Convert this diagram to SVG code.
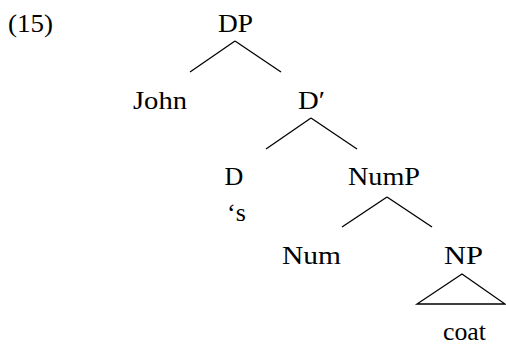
<svg xmlns="http://www.w3.org/2000/svg" width="506" height="345" viewBox="0 0 506 345">
<style>
text{font-family:"Liberation Serif","Times New Roman",serif;font-size:26px;fill:#000}
.c{text-anchor:middle}
line,polygon{stroke:#000;stroke-width:1.3;fill:none}
</style>
<rect width="506" height="345" fill="#fff"/>
<text x="8" y="32" textLength="45" lengthAdjust="spacingAndGlyphs">(15)</text>
<g id="connectors">
<line x1="235" y1="41" x2="190" y2="72"/>
<line x1="235" y1="41" x2="281" y2="72"/>
<line x1="311" y1="118" x2="266" y2="149"/>
<line x1="311" y1="118" x2="357" y2="149"/>
<line x1="387" y1="197" x2="342" y2="227"/>
<line x1="387" y1="197" x2="432" y2="227"/>
</g>
<g id="DP"><text class="c" x="235.5" y="32" textLength="35" lengthAdjust="spacingAndGlyphs">DP</text></g>
<g id="John"><text class="c" x="160" y="109" textLength="54" lengthAdjust="spacingAndGlyphs">John</text></g>
<g id="Dbar"><text class="c" x="311.5" y="109" textLength="27" lengthAdjust="spacingAndGlyphs">D′</text></g>
<g id="D"><text class="c" x="234" y="185">D</text><text class="c" x="236.5" y="221">‘s</text></g>
<g id="NumP"><text class="c" x="384" y="185" textLength="72" lengthAdjust="spacingAndGlyphs">NumP</text></g>
<g id="Num"><text class="c" x="311.5" y="264" textLength="59" lengthAdjust="spacingAndGlyphs">Num</text></g>
<g id="NP"><text class="c" x="463.5" y="264" textLength="39" lengthAdjust="spacingAndGlyphs">NP</text>
<polygon points="462,274 417,304 505,304"/>
<text class="c" x="464.5" y="340" textLength="43" lengthAdjust="spacingAndGlyphs">coat</text></g>
</svg>
